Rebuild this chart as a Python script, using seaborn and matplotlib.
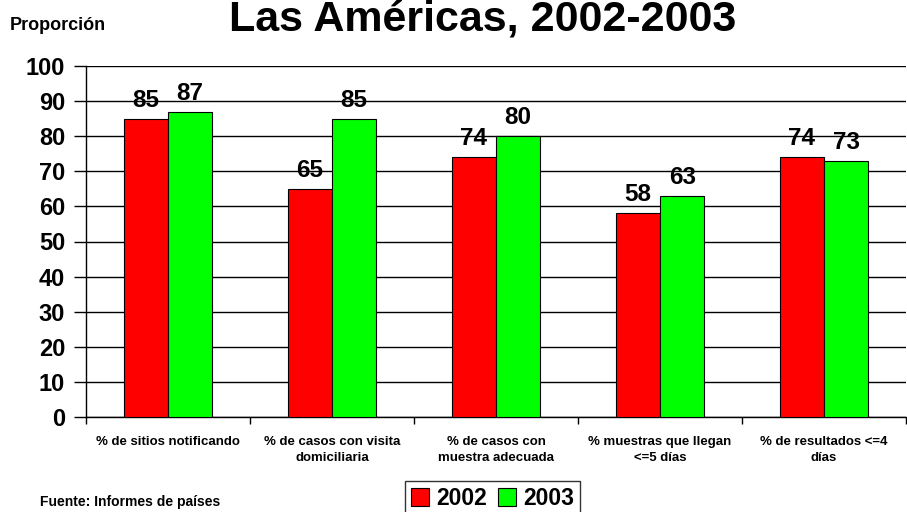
import matplotlib
matplotlib.use("Agg")
import matplotlib.pyplot as plt
import seaborn as sns
import pandas as pd
from matplotlib.patches import Patch

# datos
categorias = ["% de sitios notificando", "% de casos con visita\ndomiciliaria",
              "% de casos con\nmuestra adecuada", "% muestras que llegan\n<=5 días",
              "% de resultados <=4\ndías"]
anios = ["2002", "2003"]
valores_2002 = [85, 65, 74, 58, 74]
valores_2003 = [87, 85, 80, 63, 73]
colores = ["#FF0000", "#00FF00"]

df = pd.DataFrame({
    "categoria": categorias * 2,
    "anio": [anios[0]] * len(categorias) + [anios[1]] * len(categorias),
    "valor": valores_2002 + valores_2003,
})

sns.set_style("white")
plt.rcParams["font.family"] = ["Liberation Sans", "DejaVu Sans"]
plt.rcParams["font.weight"] = "bold"
for k in ["text.color", "axes.labelcolor", "xtick.color", "ytick.color"]:
    plt.rcParams[k] = "black"

fig = plt.figure(figsize=(9.07, 5.12), dpi=100)
ax = fig.add_axes([86 / 907, 95 / 512, 820 / 907, 351 / 512])

sns.barplot(data=df, x="categoria", y="valor", hue="anio", order=categorias,
            hue_order=anios, palette=colores, width=0.54, edgecolor="black",
            linewidth=0.8, saturation=1, ax=ax, legend=False, zorder=3)

ax.set_ylim(0, 100)
ax.set_xlim(-0.5, len(categorias) - 0.5)
ax.set_yticks(range(0, 101, 10))
ax.yaxis.grid(True, color="black", linewidth=1)
ax.set_axisbelow(True)
ax.set_xlabel("")
ax.set_ylabel("")

# ticks de x en los bordes de categoria
ax.set_xticks([i + 0.5 for i in range(-1, len(categorias))], minor=True)
ax.tick_params(axis="x", which="minor", length=5, width=1, color="black", direction="out", bottom=True)
ax.tick_params(axis="x", which="major", length=0, labelsize=9.5, pad=14)
ax.tick_params(axis="y", length=9, width=1, color="black", direction="out", left=True, labelsize=17, pad=6)
for lab in ax.get_xticklabels():
    lab.set_fontweight("bold")
    lab.set_linespacing(1.45)
for lab in ax.get_yticklabels():
    lab.set_fontweight("bold")

for s in ["top", "right"]:
    ax.spines[s].set_visible(False)
for s in ["left", "bottom"]:
    ax.spines[s].set_color("black")
    ax.spines[s].set_linewidth(1)

# etiquetas de valores
for p in ax.patches:
    h = p.get_height()
    ax.annotate(f"{h:.0f}", (p.get_x() + p.get_width() / 2, h), xytext=(0, 5),
                textcoords="offset points", ha="center", va="bottom",
                fontsize=17.5, fontweight="bold", zorder=4)

fig.text(0.532, 0.94, "Las Américas, 2002-2003", ha="center", va="baseline",
         fontsize=31, fontweight="bold")
fig.text(10 / 907, 1 - 26 / 512, "Proporción", ha="left", va="center",
         fontsize=13, fontweight="bold")
fig.text(40 / 907, 1 - 502 / 512, "Fuente: Informes de países", ha="left", va="center",
         fontsize=10, fontweight="bold")

handles = [Patch(facecolor=c, edgecolor="black", linewidth=0.8) for c in colores]
leg = fig.legend(handles, anios, loc="upper left", bbox_to_anchor=(405 / 907, 1 - 481 / 512),
                 ncol=2, frameon=True, fancybox=False, edgecolor="black",
                 prop={"size": 16.5, "weight": "bold"}, handlelength=0.8, handleheight=0.8,
                 handletextpad=0.3, columnspacing=0.5, borderpad=0.25, borderaxespad=0)
leg.get_frame().set_linewidth(1)

fig.savefig("out.png", dpi=100)
